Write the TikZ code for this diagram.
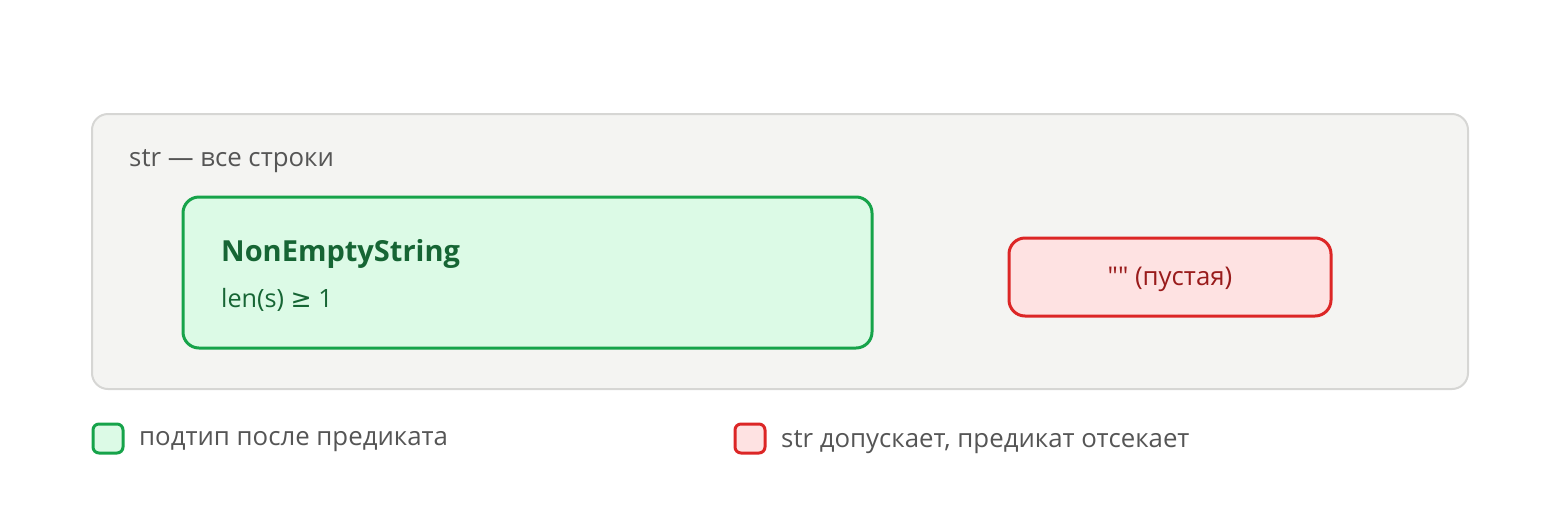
\documentclass[tikz,border=0pt]{standalone}
\usepackage{fontspec}
\setmainfont{Open Sans}
\newfontfamily\symfont{DejaVu Sans}
\newfontfamily\qfont{Open Sans}
\definecolor{outerfill}{HTML}{F4F4F2}
\definecolor{outerdraw}{HTML}{D6D6D4}
\definecolor{gfill}{HTML}{DCFAE6}
\definecolor{gdraw}{HTML}{16A34A}
\definecolor{gtext}{HTML}{166534}
\definecolor{rfill}{HTML}{FEE2E2}
\definecolor{rdraw}{HTML}{DC2626}
\definecolor{rtext}{HTML}{991B1B}
\definecolor{ltext}{HTML}{555555}
\tikzset{
  boxbase/.style={rectangle, rounded corners=16pt, inner sep=0pt},
  outerbox/.style={boxbase, fill=outerfill, draw=outerdraw, line width=2pt},
  greenbox/.style={boxbase, fill=gfill, draw=gdraw, line width=3pt},
  redbox/.style={boxbase, fill=rfill, draw=rdraw, line width=3pt},
  legbox/.style={rectangle, rounded corners=6pt, inner sep=0pt, line width=3pt, minimum width=30pt, minimum height=29pt},
  lbl/.style={inner sep=0pt, anchor=west, text=ltext, font=\fontsize{25.8}{30}\selectfont},
}
\begin{document}
\begin{tikzpicture}[x=1pt,y=-1pt]
\useasboundingbox (0,0) rectangle (1560,523);
\node[outerbox, minimum width=1376pt, minimum height=275pt] (outer) at (780,251.5) {};
\node[lbl] (outerlbl) at (129,161) {str — все строки};
\node[greenbox, minimum width=689pt, minimum height=151pt] (green) at (527.5,272.5) {};
\node[inner sep=0pt, anchor=west, text=gtext, font=\fontsize{29}{34}\selectfont\bfseries] (gtitle) at (221,254) {NonEmptyString};
\node[inner sep=0pt, anchor=west, text=gtext, font=\fontsize{25.2}{30}\selectfont] (gsub) at (221,300) {len(s) {\symfont ≥} 1};
\node[redbox, minimum width=322pt, minimum height=78pt] (red) at (1170,277) {};
\node[inner sep=0pt, text=rtext, font=\fontsize{25.8}{30}\selectfont] (redlbl) at (1170,279) {{\qfont ""} (пустая)};
\node[legbox, fill=gfill, draw=gdraw] (leg1) at (108,438.5) {};
\node[lbl] (leg1t) at (139,442) {подтип после предиката};
\node[legbox, fill=rfill, draw=rdraw] (leg2) at (750,438.5) {};
\node[lbl] (leg2t) at (781,442) {str допускает, предикат отсекает};
\end{tikzpicture}
\end{document}
